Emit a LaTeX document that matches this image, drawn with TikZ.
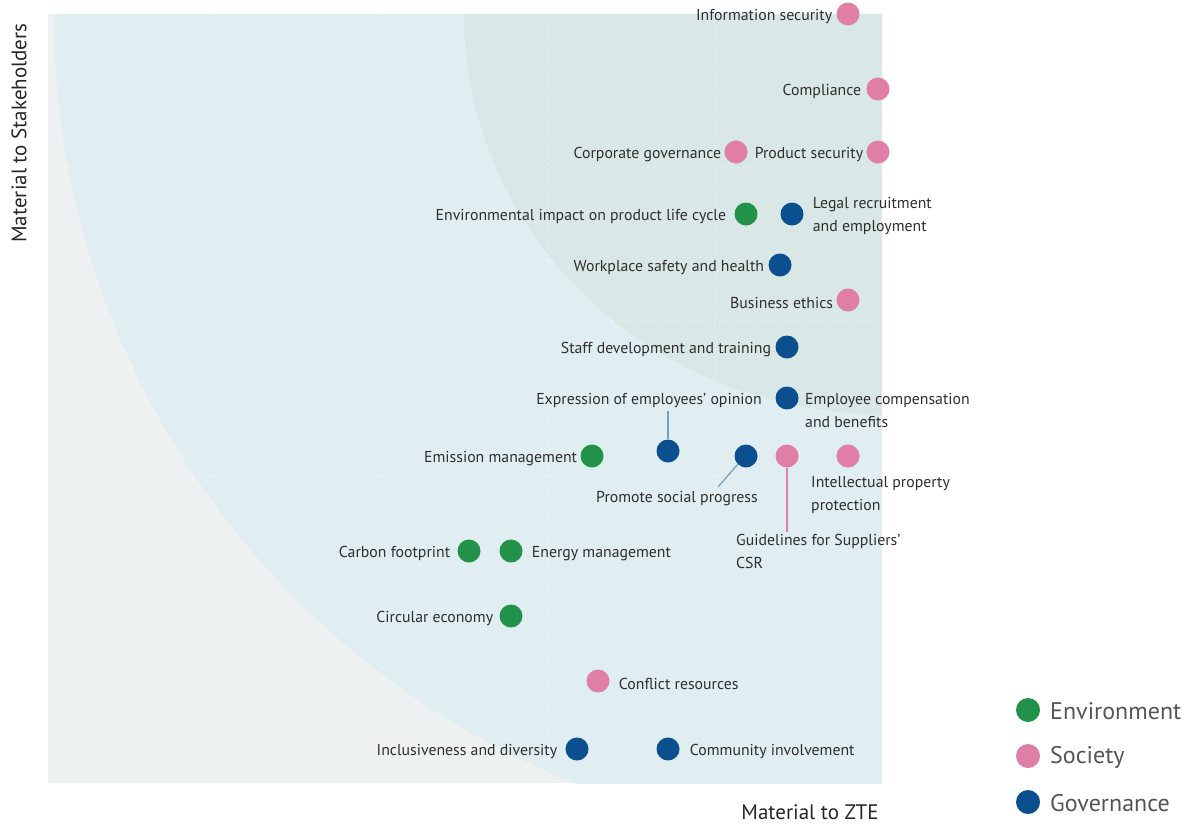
\documentclass[tikz,border=0pt]{standalone}
\usepackage{fontspec}
\setmainfont{PT Sans}
\usetikzlibrary{positioning,calc}
\definecolor{env}{HTML}{22924A}
\definecolor{soc}{HTML}{E07FA6}
\definecolor{gov}{HTML}{0B4F8E}
\definecolor{bggray}{HTML}{EEF1F2}
\definecolor{bgblue}{HTML}{E0EDF1}
\definecolor{bginner}{HTML}{D9E7E6}
\definecolor{txt}{HTML}{2E2E2E}
\definecolor{legtxt}{HTML}{555555}
\begin{document}
\begin{tikzpicture}[x=1pt,y=-1pt,
  dot/.style={circle,inner sep=0pt,minimum size=23pt},
  denv/.style={dot,fill=env},
  dsoc/.style={dot,fill=soc},
  dgov/.style={dot,fill=gov},
  lbl/.style={inner sep=0pt,text=txt,font=\fontsize{15.8}{23}\selectfont,align=left,yshift=-2.5pt},
  axis/.style={inner sep=0pt,text=black!85,font=\fontsize{21}{24}\selectfont},
  legtext/.style={inner sep=0pt,text=legtxt,font=\fontsize{24}{26}\selectfont},
  gridline/.style={white,line width=1.3pt,line cap=round,dash pattern=on 0pt off 6pt},
  govline/.style={draw=gov!55!white,line width=1.2pt},
  socline/.style={draw=soc,line width=1.2pt}]
\useasboundingbox (0,0) rectangle (1189,825);
% background
\fill[bggray] (48,14) rectangle (882,783);
\begin{scope}
  \clip (48,14) rectangle (882,783);
  \fill[bgblue] (882,14) circle[radius=828pt];
  \fill[bginner] (882,14) ellipse[x radius=418pt, y radius=400pt];
\end{scope}
\foreach \x in {214.8,381.6,548.4,715.2} \draw[gridline] (\x,14) -- (\x,783);
\foreach \y in {167.8,321.6,475.4,629.2} \draw[gridline] (48,\y) -- (882,\y);
% axis labels
\node[axis,rotate=90] (yax) at (19,133) {Material to Stakeholders};
\node[axis] (xax) at (810,812) {Material to ZTE};
% points
\node[dsoc] (dis) at (848,14) {};
\node[lbl,left=4pt of dis] (lis) {Information security};
\node[dsoc] (dco) at (878,89) {};
\node[lbl,left=5pt of dco] (lco) {Compliance};
\node[dsoc] (dcg) at (736,152) {};
\node[lbl,left=3pt of dcg] (lcg) {Corporate governance};
\node[dsoc] (dps) at (878,152) {};
\node[lbl,left=3pt of dps] (lps) {Product security};
\node[denv] (dei) at (746,214) {};
\node[lbl,left=8pt of dei] (lei) {Environmental impact on product life cycle};
\node[dgov] (dlr) at (792,214) {};
\node[lbl,right=9pt of dlr] (llr) {Legal recruitment\\and employment};
\node[dgov] (dws) at (780,265) {};
\node[lbl,left=4pt of dws] (lws) {Workplace safety and health};
\node[dsoc] (dbe) at (848,300) {};
\node[lbl,left=3pt of dbe] (lbe) {Business ethics};
\node[dgov] (dsd) at (787,347) {};
\node[lbl,left=4pt of dsd] (lsd) {Staff development and training};
\node[dgov] (dec) at (787,398) {};
\node[lbl,anchor=north west] (lec) at (805,391) {Employee compensation\\and benefits};
\node[dgov] (dex) at (668,451) {};
\node[lbl] (lex) at (649,398) {Expression of employees' opinion};
\draw[govline] (dex.north) -- ([yshift=-3pt]dex.north |- lex.south);
\node[denv] (dem) at (592,456) {};
\node[lbl,left=3pt of dem] (lem) {Emission management};
\node[dgov] (dsp) at (746,456) {};
\node[lbl] (lsp) at (677,496) {Promote social progress};
\coordinate (spend) at (718,487);
\draw[govline] (dsp.225) -- (spend);
\node[dsoc] (dgs) at (787,456) {};
\node[lbl,anchor=north west] (lgs) at (736,532) {Guidelines for Suppliers'\\CSR};
\draw[socline] (dgs.south) -- ([yshift=3pt]dgs.south |- lgs.north);
\node[dsoc] (dip) at (848,456) {};
\node[lbl,anchor=north west] (lip) at (811,474) {Intellectual property\\protection};
\node[denv] (dcf) at (469,551) {};
\node[lbl,left=7pt of dcf] (lcf) {Carbon footprint};
\node[denv] (den) at (511,551) {};
\node[lbl,right=9pt of den] (len) {Energy management};
\node[denv] (dce) at (511,616) {};
\node[lbl,left=6pt of dce] (lce) {Circular economy};
\node[dsoc] (dcr) at (598,681) {};
\node[lbl,right=9pt of dcr] (lcr) {Conflict resources};
\node[dgov] (did) at (577,749) {};
\node[lbl,left=8pt of did] (lid) {Inclusiveness and diversity};
\node[dgov] (dci) at (668,749) {};
\node[lbl,right=10pt of dci] (lci) {Community involvement};
% legend
\node[denv,minimum size=24pt] (gen) at (1028,710) {};
\node[legtext,anchor=west] (ten) at (1050,711) {Environment};
\node[dsoc,minimum size=24pt] (gso) at (1028,756) {};
\node[legtext,anchor=west] (tso) at (1050,757) {Society};
\node[dgov,minimum size=24pt] (ggo) at (1028,802) {};
\node[legtext,anchor=west] (tgo) at (1050,803) {Governance};
\end{tikzpicture}
\end{document}
